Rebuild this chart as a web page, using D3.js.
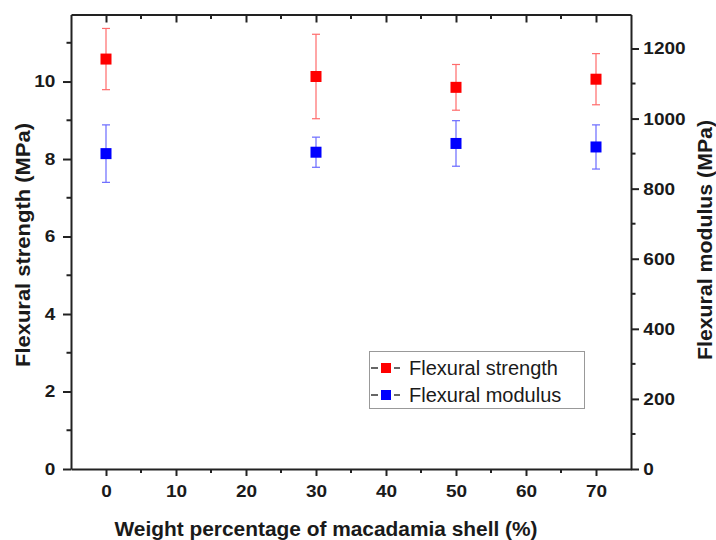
<!DOCTYPE html>
<html>
<head>
<meta charset="utf-8">
<script src="https://cdn.jsdelivr.net/npm/d3@7"></script>
<style>
  body { margin: 0; background: #fff; }
  text { font-family: "Liberation Sans", Arial, sans-serif; }
</style>
</head>
<body>
<script>
// data
var shellPct = [0, 30, 50, 70];
var strength = [10.58, 10.13, 9.85, 10.06];
var strengthErr = [0.79, 1.09, 0.59, 0.66];
var modulus = [900, 904, 929, 919];
var modulusErr = [82, 43, 65, 63];
var seriesNames = ["Flexural strength", "Flexural modulus"];
var xTicks = [0, 10, 20, 30, 40, 50, 60, 70];
var leftTicks = [0, 2, 4, 6, 8, 10];
var rightTicks = [0, 200, 400, 600, 800, 1000, 1200];

var width = 716, height = 540;
var plotLeft = 71, plotRight = 631, plotTop = 14.5, plotBottom = 469;

var svg = d3.select("body").append("svg")
  .attr("width", width)
  .attr("height", height);

var x = d3.scaleLinear().domain([-5, 75]).range([plotLeft, plotRight]);
var yL = d3.scaleLinear().domain([0, 11.73]).range([plotBottom, plotTop]);
var yR = d3.scaleLinear().domain([0, 1297]).range([plotBottom, plotTop]);

var axisColor = "#222";

// minor ticks
function minor(sel, scale, vals, orient, len) {
  sel.selectAll(null).data(vals).enter().append("line")
    .attr("x1", function(d) { return orient == "h" ? scale(d) : 0; })
    .attr("x2", function(d) { return orient == "h" ? scale(d) : len; })
    .attr("y1", function(d) { return orient == "h" ? 0 : scale(d); })
    .attr("y2", function(d) { return orient == "h" ? len : scale(d); })
    .attr("stroke", axisColor)
    .attr("stroke-width", 2);
}

function styleAxis(g) {
  g.select(".domain").attr("stroke", axisColor).attr("stroke-width", 2);
  g.selectAll(".tick line").attr("stroke", axisColor).attr("stroke-width", 2);
  g.selectAll(".tick text")
    .attr("fill", "#1a1a1a")
    .style("font-size", "17px")
    .style("font-weight", "bold");
}

// bottom axis
var gx = svg.append("g").attr("transform", "translate(0," + plotBottom + ")")
  .call(d3.axisBottom(x).tickValues(xTicks).tickSize(7).tickSizeOuter(0).tickPadding(9));
styleAxis(gx);
gx.selectAll(".tick text").attr("transform", "scale(1.12,1)");
minor(gx, x, [5, 15, 25, 35, 45, 55, 65], "h", 4);

// top axis, ticks pointing in
var gt = svg.append("g").attr("transform", "translate(0," + plotTop + ")")
  .call(d3.axisBottom(x).tickValues(xTicks).tickSize(8).tickSizeOuter(0).tickFormat(""));
styleAxis(gt);
minor(gt, x, [5, 15, 25, 35, 45, 55, 65], "h", 4.5);

// left axis
var gl = svg.append("g").attr("transform", "translate(" + plotLeft + ",0)")
  .call(d3.axisLeft(yL).tickValues(leftTicks).tickSize(8).tickSizeOuter(0).tickPadding(6));
styleAxis(gl);
gl.selectAll(".tick text").attr("transform", "scale(1.12,1)");
minor(gl, yL, [1, 3, 5, 7, 9, 11], "v", -4.5);

// right axis
var gr = svg.append("g").attr("transform", "translate(" + plotRight + ",0)")
  .call(d3.axisRight(yR).tickValues(rightTicks).tickFormat(d3.format("d"))
    .tickSize(8).tickSizeOuter(0).tickPadding(3));
styleAxis(gr);
gr.selectAll(".tick text").attr("transform", "scale(1.12,1)");
minor(gr, yR, [100, 300, 500, 700, 900, 1100], "v", 4.5);

// error bars + markers
function drawSeries(vals, errs, scale, lineColor, fill) {
  var g = svg.append("g");
  var cap = 4;
  var bars = g.selectAll(null).data(shellPct).enter().append("g");
  bars.append("line")
    .attr("x1", function(d) { return x(d); })
    .attr("x2", function(d) { return x(d); })
    .attr("y1", function(d, i) { return scale(vals[i] + errs[i]); })
    .attr("y2", function(d, i) { return scale(vals[i] - errs[i]); })
    .attr("stroke", lineColor).attr("stroke-width", 1.2);
  [1, -1].forEach(function(s) {
    bars.append("line")
      .attr("x1", function(d) { return x(d) - cap; })
      .attr("x2", function(d) { return x(d) + cap; })
      .attr("y1", function(d, i) { return scale(vals[i] + s * errs[i]); })
      .attr("y2", function(d, i) { return scale(vals[i] + s * errs[i]); })
      .attr("stroke", lineColor).attr("stroke-width", 1.2);
  });
  bars.append("rect")
    .attr("x", function(d) { return x(d) - 5.5; })
    .attr("y", function(d, i) { return scale(vals[i]) - 5.5; })
    .attr("width", 11).attr("height", 11)
    .attr("fill", fill);
}
drawSeries(strength, strengthErr, yL, "#ff6b6b", "#ff0000");
drawSeries(modulus, modulusErr, yR, "#6a6aff", "#0000ff");

// axis titles
svg.append("text")
  .attr("x", 326).attr("y", 536)
  .attr("text-anchor", "middle")
  .attr("textLength", 423).attr("lengthAdjust", "spacingAndGlyphs")
  .style("font-size", "20px").style("font-weight", "bold").attr("fill", "#1a1a1a")
  .text("Weight percentage of macadamia shell (%)");

svg.append("text")
  .attr("transform", "translate(29.5,245) rotate(-90)")
  .attr("text-anchor", "middle")
  .attr("textLength", 244).attr("lengthAdjust", "spacingAndGlyphs")
  .style("font-size", "20px").style("font-weight", "bold").attr("fill", "#1a1a1a")
  .text("Flexural strength (MPa)");

svg.append("text")
  .attr("transform", "translate(712,240) rotate(-90)")
  .attr("text-anchor", "middle")
  .attr("textLength", 240).attr("lengthAdjust", "spacingAndGlyphs")
  .style("font-size", "20px").style("font-weight", "bold").attr("fill", "#1a1a1a")
  .text("Flexural modulus (MPa)");

// legend
var legend = svg.append("g");
legend.append("rect")
  .attr("x", 369.5).attr("y", 351.5).attr("width", 215).attr("height", 57)
  .attr("fill", "#fff").attr("stroke", "#999").attr("stroke-width", 1);
var legColors = ["#ff0000", "#0000ff"];
var rows = legend.selectAll(null).data(seriesNames).enter().append("g")
  .attr("transform", function(d, i) { return "translate(0," + (368 + i * 27) + ")"; });
rows.append("line").attr("x1", 371).attr("x2", 378).attr("y1", 0).attr("y2", 0)
  .attr("stroke", "#333").attr("stroke-width", 1.5);
rows.append("line").attr("x1", 394).attr("x2", 400).attr("y1", 0).attr("y2", 0)
  .attr("stroke", "#333").attr("stroke-width", 1.5);
rows.append("rect").attr("x", 381).attr("y", -5).attr("width", 10).attr("height", 10)
  .attr("fill", function(d, i) { return legColors[i]; });
rows.append("text")
  .attr("x", 409).attr("y", 7)
  .style("font-size", "20px").attr("fill", "#1a1a1a")
  .text(function(d) { return d; });
</script>
</body>
</html>
